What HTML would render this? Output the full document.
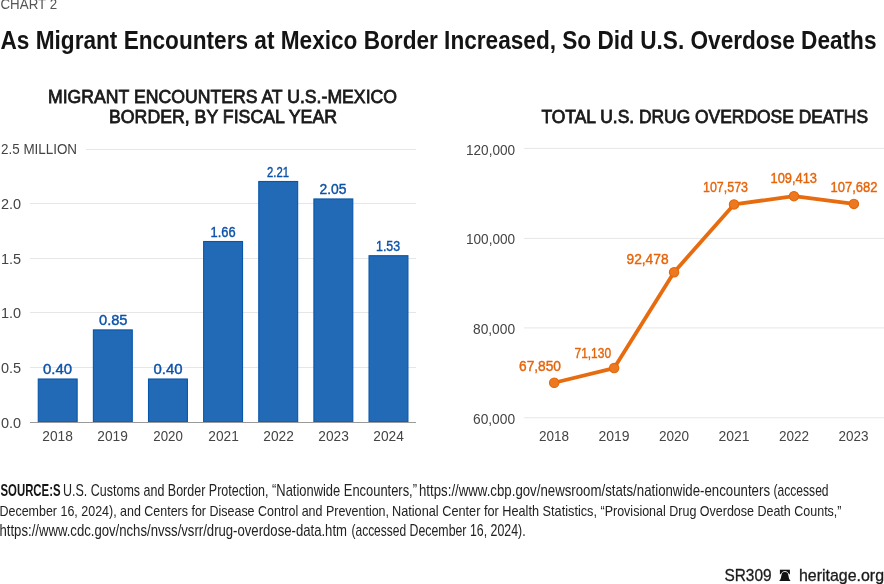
<!DOCTYPE html><html><head><meta charset="utf-8"><style>html,body{margin:0;padding:0;background:#fff;}svg{display:block;will-change:transform;font-family:"Liberation Sans",sans-serif;}</style></head><body><svg width="884" height="584" viewBox="0 0 884 584"><line x1="86" y1="149.5" x2="416" y2="149.5" stroke="#e6e6e6" stroke-width="1"/>
<line x1="30" y1="203.5" x2="416" y2="203.5" stroke="#e6e6e6" stroke-width="1"/>
<line x1="30" y1="258.5" x2="416" y2="258.5" stroke="#e6e6e6" stroke-width="1"/>
<line x1="30" y1="312.5" x2="416" y2="312.5" stroke="#e6e6e6" stroke-width="1"/>
<line x1="30" y1="367.5" x2="416" y2="367.5" stroke="#e6e6e6" stroke-width="1"/>
<rect x="38.25" y="379.00" width="38.9" height="43.10" fill="#226ab5" stroke="#0756ad" stroke-width="1.1"/>
<rect x="93.38" y="329.90" width="38.9" height="92.20" fill="#226ab5" stroke="#0756ad" stroke-width="1.1"/>
<rect x="148.51" y="379.00" width="38.9" height="43.10" fill="#226ab5" stroke="#0756ad" stroke-width="1.1"/>
<rect x="203.64" y="241.51" width="38.9" height="180.59" fill="#226ab5" stroke="#0756ad" stroke-width="1.1"/>
<rect x="258.77" y="181.49" width="38.9" height="240.61" fill="#226ab5" stroke="#0756ad" stroke-width="1.1"/>
<rect x="313.90" y="198.95" width="38.9" height="223.15" fill="#226ab5" stroke="#0756ad" stroke-width="1.1"/>
<rect x="369.03" y="255.70" width="38.9" height="166.40" fill="#226ab5" stroke="#0756ad" stroke-width="1.1"/>
<line x1="30" y1="422.5" x2="416" y2="422.5" stroke="#9a9a9a" stroke-width="1.2"/>
<line x1="524" y1="148.4" x2="884" y2="148.4" stroke="#e6e6e6" stroke-width="1"/>
<line x1="524" y1="238.4" x2="884" y2="238.4" stroke="#e6e6e6" stroke-width="1"/>
<line x1="524" y1="327.9" x2="884" y2="327.9" stroke="#e6e6e6" stroke-width="1"/>
<line x1="524" y1="417.8" x2="884" y2="417.8" stroke="#e6e6e6" stroke-width="1"/>
<polyline points="554.20,382.75 614.14,368.03 674.08,272.17 734.02,204.40 793.96,196.14 853.90,203.91" fill="none" stroke="#e76b0f" stroke-width="3.8" stroke-linejoin="round"/>
<circle cx="554.20" cy="382.75" r="4.7" fill="#ec7820" stroke="#e5670b" stroke-width="1.1"/>
<circle cx="614.14" cy="368.03" r="4.7" fill="#ec7820" stroke="#e5670b" stroke-width="1.1"/>
<circle cx="674.08" cy="272.17" r="4.7" fill="#ec7820" stroke="#e5670b" stroke-width="1.1"/>
<circle cx="734.02" cy="204.40" r="4.7" fill="#ec7820" stroke="#e5670b" stroke-width="1.1"/>
<circle cx="793.96" cy="196.14" r="4.7" fill="#ec7820" stroke="#e5670b" stroke-width="1.1"/>
<circle cx="853.90" cy="203.91" r="4.7" fill="#ec7820" stroke="#e5670b" stroke-width="1.1"/>
<rect x="779.9" y="569.7" width="10" height="4.5" fill="#111"/>
<path d="M779.4,580.9 L790.4,580.9 C790.4,580.3 789.6,579.6 789.2,578.9 C788.7,577.5 788.5,575.5 788.2,574.8 C787.7,573.2 786.5,572.3 784.9,572.3 C783.3,572.3 782.1,573.2 781.6,574.8 C781.3,575.5 781.1,577.5 780.6,578.9 C780.2,579.6 779.4,580.3 779.4,580.9 Z" fill="#111"/>
<path d="M781.0,574.6 C781.6,572.6 783.0,571.5 784.9,571.5 C786.8,571.5 788.2,572.6 788.8,574.6" fill="none" stroke="#fff" stroke-width="0.9"/>
<text x="0.50" y="9.20" font-size="14.83" font-weight="normal" fill="#555555" textLength="56.54" lengthAdjust="spacingAndGlyphs">CHART 2</text>
<text x="0.50" y="48.80" font-size="25.87" font-weight="bold" fill="#141414" textLength="876.00" lengthAdjust="spacingAndGlyphs">As Migrant Encounters at Mexico Border Increased, So Did U.S. Overdose Deaths</text>
<text x="48.00" y="103.30" font-size="18.90" font-weight="normal" fill="#1a1a1a" stroke="#1a1a1a" stroke-width="0.80" textLength="349.00" lengthAdjust="spacingAndGlyphs">MIGRANT ENCOUNTERS AT U.S.-MEXICO</text>
<text x="109.00" y="123.00" font-size="18.60" font-weight="normal" fill="#1a1a1a" stroke="#1a1a1a" stroke-width="0.80" textLength="228.02" lengthAdjust="spacingAndGlyphs">BORDER, BY FISCAL YEAR</text>
<text x="541.50" y="123.00" font-size="18.31" font-weight="normal" fill="#1a1a1a" stroke="#1a1a1a" stroke-width="0.80" textLength="326.50" lengthAdjust="spacingAndGlyphs">TOTAL U.S. DRUG OVERDOSE DEATHS</text>
<text x="1.00" y="154.40" font-size="14.97" font-weight="normal" fill="#444444" textLength="76.06" lengthAdjust="spacingAndGlyphs">2.5 MILLION</text>
<text x="1.00" y="209.26" font-size="15.26" font-weight="normal" fill="#444444" textLength="20.14" lengthAdjust="spacingAndGlyphs">2.0</text>
<text x="1.00" y="263.82" font-size="15.26" font-weight="normal" fill="#444444" textLength="20.14" lengthAdjust="spacingAndGlyphs">1.5</text>
<text x="1.00" y="318.38" font-size="15.26" font-weight="normal" fill="#444444" textLength="20.14" lengthAdjust="spacingAndGlyphs">1.0</text>
<text x="1.00" y="372.94" font-size="15.26" font-weight="normal" fill="#444444" textLength="20.14" lengthAdjust="spacingAndGlyphs">0.5</text>
<text x="1.00" y="427.50" font-size="15.26" font-weight="normal" fill="#444444" textLength="20.14" lengthAdjust="spacingAndGlyphs">0.0</text>
<text x="42.25" y="440.90" font-size="14.54" font-weight="normal" fill="#444444" textLength="30.57" lengthAdjust="spacingAndGlyphs">2018</text>
<text x="97.25" y="440.90" font-size="14.54" font-weight="normal" fill="#444444" textLength="30.57" lengthAdjust="spacingAndGlyphs">2019</text>
<text x="153.25" y="440.90" font-size="14.54" font-weight="normal" fill="#444444" textLength="29.55" lengthAdjust="spacingAndGlyphs">2020</text>
<text x="208.25" y="440.90" font-size="14.54" font-weight="normal" fill="#444444" textLength="30.57" lengthAdjust="spacingAndGlyphs">2021</text>
<text x="263.25" y="440.90" font-size="14.54" font-weight="normal" fill="#444444" textLength="30.57" lengthAdjust="spacingAndGlyphs">2022</text>
<text x="318.25" y="440.90" font-size="14.54" font-weight="normal" fill="#444444" textLength="30.57" lengthAdjust="spacingAndGlyphs">2023</text>
<text x="373.25" y="440.90" font-size="14.54" font-weight="normal" fill="#444444" textLength="30.57" lengthAdjust="spacingAndGlyphs">2024</text>
<text x="43.00" y="374.15" font-size="14.39" font-weight="normal" fill="#0d52a8" stroke="#0d52a8" stroke-width="0.40" textLength="29.07" lengthAdjust="spacingAndGlyphs">0.40</text>
<text x="99.00" y="325.05" font-size="14.39" font-weight="normal" fill="#0d52a8" stroke="#0d52a8" stroke-width="0.40" textLength="28.52" lengthAdjust="spacingAndGlyphs">0.85</text>
<text x="153.50" y="374.15" font-size="14.39" font-weight="normal" fill="#0d52a8" stroke="#0d52a8" stroke-width="0.40" textLength="29.01" lengthAdjust="spacingAndGlyphs">0.40</text>
<text x="210.50" y="236.66" font-size="14.39" font-weight="normal" fill="#0d52a8" stroke="#0d52a8" stroke-width="0.40" textLength="25.06" lengthAdjust="spacingAndGlyphs">1.66</text>
<text x="267.00" y="176.64" font-size="14.39" font-weight="normal" fill="#0d52a8" stroke="#0d52a8" stroke-width="0.40" textLength="22.00" lengthAdjust="spacingAndGlyphs">2.21</text>
<text x="319.50" y="194.10" font-size="14.39" font-weight="normal" fill="#0d52a8" stroke="#0d52a8" stroke-width="0.40" textLength="27.02" lengthAdjust="spacingAndGlyphs">2.05</text>
<text x="376.00" y="250.85" font-size="14.39" font-weight="normal" fill="#0d52a8" stroke="#0d52a8" stroke-width="0.40" textLength="24.07" lengthAdjust="spacingAndGlyphs">1.53</text>
<text x="466.00" y="154.60" font-size="15.55" font-weight="normal" fill="#444444" textLength="49.06" lengthAdjust="spacingAndGlyphs">120,000</text>
<text x="466.00" y="244.40" font-size="15.55" font-weight="normal" fill="#444444" textLength="49.06" lengthAdjust="spacingAndGlyphs">100,000</text>
<text x="473.00" y="334.20" font-size="15.55" font-weight="normal" fill="#444444" textLength="42.08" lengthAdjust="spacingAndGlyphs">80,000</text>
<text x="473.00" y="424.00" font-size="15.55" font-weight="normal" fill="#444444" textLength="42.08" lengthAdjust="spacingAndGlyphs">60,000</text>
<text x="539.00" y="441.00" font-size="14.83" font-weight="normal" fill="#444444" textLength="30.05" lengthAdjust="spacingAndGlyphs">2018</text>
<text x="598.50" y="441.00" font-size="14.83" font-weight="normal" fill="#444444" textLength="31.12" lengthAdjust="spacingAndGlyphs">2019</text>
<text x="659.00" y="441.00" font-size="14.83" font-weight="normal" fill="#444444" textLength="30.09" lengthAdjust="spacingAndGlyphs">2020</text>
<text x="718.50" y="441.00" font-size="14.83" font-weight="normal" fill="#444444" textLength="31.09" lengthAdjust="spacingAndGlyphs">2021</text>
<text x="779.00" y="441.00" font-size="14.83" font-weight="normal" fill="#444444" textLength="30.05" lengthAdjust="spacingAndGlyphs">2022</text>
<text x="838.50" y="441.00" font-size="14.83" font-weight="normal" fill="#444444" textLength="30.05" lengthAdjust="spacingAndGlyphs">2023</text>
<text x="519.00" y="370.80" font-size="14.68" font-weight="normal" fill="#e6640a" stroke="#e6640a" stroke-width="0.40" textLength="42.01" lengthAdjust="spacingAndGlyphs">67,850</text>
<text x="574.50" y="358.30" font-size="14.68" font-weight="normal" fill="#e6640a" stroke="#e6640a" stroke-width="0.40" textLength="36.56" lengthAdjust="spacingAndGlyphs">71,130</text>
<text x="626.50" y="264.40" font-size="14.24" font-weight="normal" fill="#e6640a" stroke="#e6640a" stroke-width="0.40" textLength="42.04" lengthAdjust="spacingAndGlyphs">92,478</text>
<text x="703.00" y="191.80" font-size="14.68" font-weight="normal" fill="#e6640a" stroke="#e6640a" stroke-width="0.40" textLength="45.01" lengthAdjust="spacingAndGlyphs">107,573</text>
<text x="770.50" y="182.90" font-size="14.39" font-weight="normal" fill="#e6640a" stroke="#e6640a" stroke-width="0.40" textLength="46.52" lengthAdjust="spacingAndGlyphs">109,413</text>
<text x="830.50" y="191.80" font-size="14.68" font-weight="normal" fill="#e6640a" stroke="#e6640a" stroke-width="0.40" textLength="47.03" lengthAdjust="spacingAndGlyphs">107,682</text>
<text x="0.50" y="496.30" font-size="15.84" font-weight="bold" fill="#141414" textLength="60.02" lengthAdjust="spacingAndGlyphs">SOURCE:S</text>
<text x="63.00" y="496.40" font-size="15.70" font-weight="normal" fill="#222222" textLength="205.52" lengthAdjust="spacingAndGlyphs">U.S. Customs and Border Protection,</text>
<text x="272.00" y="496.40" font-size="15.70" font-weight="normal" fill="#222222" textLength="145.01" lengthAdjust="spacingAndGlyphs">“Nationwide Encounters,”</text>
<text x="419.00" y="496.40" font-size="15.70" font-weight="normal" fill="#222222" textLength="351.01" lengthAdjust="spacingAndGlyphs">https://www.cbp.gov/newsroom/stats/nationwide-encounters</text>
<text x="773.50" y="496.40" font-size="15.70" font-weight="normal" fill="#222222" textLength="55.07" lengthAdjust="spacingAndGlyphs">(accessed</text>
<text x="-0.50" y="516.40" font-size="15.41" font-weight="normal" fill="#222222" textLength="206.51" lengthAdjust="spacingAndGlyphs">December 16, 2024), and Centers for</text>
<text x="209.50" y="516.40" font-size="15.41" font-weight="normal" fill="#222222" textLength="179.53" lengthAdjust="spacingAndGlyphs">Disease Control and Prevention,</text>
<text x="392.00" y="516.40" font-size="15.41" font-weight="normal" fill="#222222" textLength="205.02" lengthAdjust="spacingAndGlyphs">National Center for Health Statistics,</text>
<text x="600.50" y="516.40" font-size="15.41" font-weight="normal" fill="#222222" textLength="241.00" lengthAdjust="spacingAndGlyphs">“Provisional Drug Overdose Death Counts,”</text>
<text x="-0.50" y="536.40" font-size="15.99" font-weight="normal" fill="#222222" textLength="347.52" lengthAdjust="spacingAndGlyphs">https://www.cdc.gov/nchs/nvss/vsrr/drug-overdose-data.htm</text>
<text x="351.50" y="536.40" font-size="15.99" font-weight="normal" fill="#222222" textLength="54.56" lengthAdjust="spacingAndGlyphs">(accessed</text>
<text x="409.50" y="536.40" font-size="15.99" font-weight="normal" fill="#222222" textLength="116.07" lengthAdjust="spacingAndGlyphs">December 16, 2024).</text>
<text x="724.50" y="581.20" font-size="16.72" font-weight="normal" fill="#1a1a1a" stroke="#1a1a1a" stroke-width="0.30" textLength="47.02" lengthAdjust="spacingAndGlyphs">SR309</text>
<text x="799.00" y="580.90" font-size="16.13" font-weight="normal" fill="#1a1a1a" stroke="#1a1a1a" stroke-width="0.30" textLength="85.03" lengthAdjust="spacingAndGlyphs">heritage.org</text></svg></body></html>
